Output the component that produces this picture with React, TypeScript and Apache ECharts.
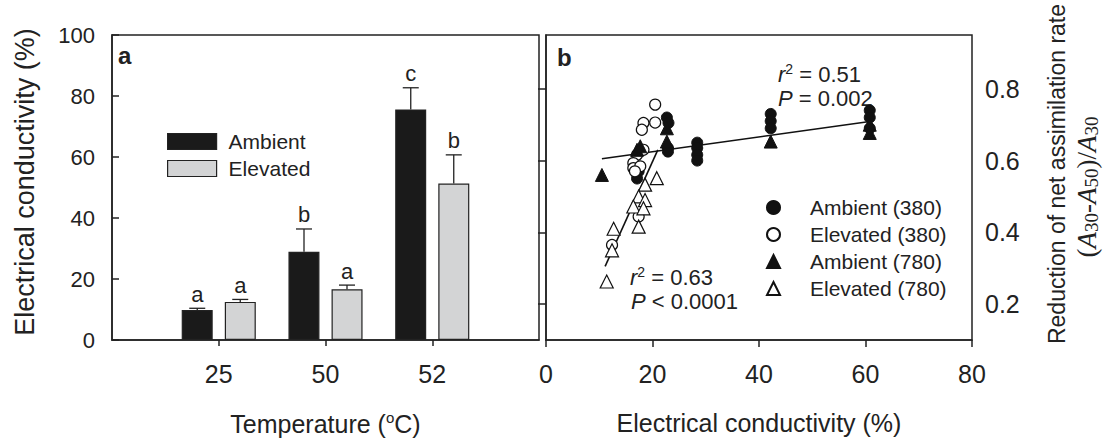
import React, { useEffect, useRef } from 'react';
import * as echarts from 'echarts';

// ---------- Panel a data ----------
const temperatures = ['25', '50', '52'];
const ambientMean = [9.8, 28.9, 75.6];
const ambientErrTop = [10.4, 36.4, 82.7];
const ambientLetters = ['a', 'b', 'c'];
const elevatedMean = [12.5, 16.6, 51.3];
const elevatedErrTop = [13.3, 18.0, 60.7];
const elevatedLetters = ['a', 'a', 'b'];
const yTicksA = [0, 20, 40, 60, 80, 100];

// ---------- Panel b data ----------
const ambient380: number[][] = [
  [17.4, 0.57], [17.1, 0.55],
  [22.7, 0.72], [23.0, 0.705], [22.9, 0.635], [22.9, 0.625],
  [28.4, 0.65], [28.4, 0.635], [28.4, 0.616], [28.4, 0.60],
  [42.2, 0.73], [42.2, 0.71], [42.2, 0.69],
  [60.8, 0.74], [60.8, 0.72], [60.8, 0.69],
];
const elevated380: number[][] = [
  [20.5, 0.756], [18.3, 0.705], [18.0, 0.686], [20.5, 0.706],
  [17.1, 0.616], [16.4, 0.593], [16.4, 0.579], [18.3, 0.63], [17.7, 0.584], [16.7, 0.57],
  [17.4, 0.444], [12.4, 0.365],
];
const ambient780: number[][] = [
  [10.5, 0.56], [17.1, 0.63], [17.7, 0.64],
  [22.7, 0.69], [22.7, 0.653], [42.2, 0.653],
  [60.8, 0.70], [60.8, 0.677],
];
const elevated780: number[][] = [
  [20.8, 0.551], [18.6, 0.533], [17.4, 0.50], [18.6, 0.49], [16.4, 0.472],
  [18.3, 0.467], [17.4, 0.416], [12.7, 0.41], [12.4, 0.35], [11.4, 0.263],
];
const fitAmbient: number[][] = [[10.5, 0.605], [60.8, 0.709]];
const fitElevated: number[][] = [[11.1, 0.305], [21.0, 0.63]];
const yTicksB = [0.2, 0.4, 0.6, 0.8];

const FONT = 'Liberation Sans';
const INK = '#222';

export default function App() {
  const ref = useRef<HTMLDivElement>(null);
  useEffect(() => {
    if (!ref.current) return;
    const chart = echarts.init(ref.current, undefined, { renderer: 'svg' });
    const cats = ['', ...temperatures, ''];
    const pad = (arr: number[]) => [null, ...arr, null];

    const errRender = (offset: number, tops: number[], means: number[], letters: string[]) =>
      (params: any, api: any) => {
        const idx = api.value(0);
        const i = params.dataIndex;
        const base = api.coord([idx, means[i]]);
        const top = api.coord([idx, tops[i]]);
        const x = base[0] + offset;
        return {
          type: 'group',
          children: [
            { type: 'line', shape: { x1: x, y1: base[1], x2: x, y2: top[1] }, style: { stroke: INK, lineWidth: 1.3 } },
            { type: 'line', shape: { x1: x - 8, y1: top[1], x2: x + 8, y2: top[1] }, style: { stroke: INK, lineWidth: 1.3 } },
            { type: 'text', x, y: top[1] - 3, style: { text: letters[i], fill: INK, fontSize: 22, fontFamily: FONT, align: 'center', verticalAlign: 'bottom' } },
          ],
        };
      };

    const axisLine = { lineStyle: { color: INK, width: 1.5 } };
    const tickStyle = { color: INK, width: 1.5 };
    const openStyle = { color: '#fff', borderColor: '#111', borderWidth: 1.2, opacity: 1 };
    const filledStyle = { color: '#111', borderColor: '#111', borderWidth: 1, opacity: 1 };

    const option: any = {
      animation: false,
      grid: [
        { left: 112, top: 35, width: 427, height: 305, show: true, borderColor: INK, borderWidth: 1.5, outerBoundsMode: 'none' },
        { left: 546, top: 35, width: 426, height: 305, show: true, borderColor: INK, borderWidth: 1.5, outerBoundsMode: 'none' },
      ],
      xAxis: [
        {
          type: 'category', gridIndex: 0, data: cats, boundaryGap: false,
          axisLine, axisTick: { show: true, inside: false, length: 6, interval: (i: number) => i >= 1 && i <= 3, lineStyle: tickStyle },
          axisLabel: { interval: 0, fontSize: 25, fontFamily: FONT, color: INK, margin: 21 },
          name: 'Temperature ({sup|o}C)', nameLocation: 'middle', nameGap: 70,
          nameTextStyle: {
            fontSize: 25, fontFamily: FONT, color: INK, lineHeight: 28,
            rich: { sup: { fontSize: 15, fontFamily: FONT, color: INK, lineHeight: 15, verticalAlign: 'top' } },
          },
        },
        {
          type: 'value', gridIndex: 1, min: 0, max: 80, interval: 20,
          axisLine, axisTick: { show: true, inside: false, length: 7, lineStyle: tickStyle },
          splitLine: { show: false },
          axisLabel: { fontSize: 25, fontFamily: FONT, color: INK, margin: 21 },
          name: 'Electrical conductivity (%)', nameLocation: 'middle', nameGap: 70,
          nameTextStyle: { fontSize: 25, fontFamily: FONT, color: INK },
        },
      ],
      yAxis: [
        {
          type: 'value', gridIndex: 0, min: 0, max: 100, interval: 20,
          axisLine: { show: true, ...axisLine }, axisTick: { show: true, inside: true, length: 7, lineStyle: tickStyle },
          splitLine: { show: false },
          axisLabel: { fontSize: 22, fontFamily: FONT, color: INK, margin: 17, customValues: yTicksA },
        },
        {
          type: 'value', gridIndex: 1, position: 'right', min: 0.1, max: 0.95,
          axisLine: { show: true, ...axisLine },
          axisTick: { show: true, inside: true, length: 8, lineStyle: tickStyle, customValues: yTicksB },
          splitLine: { show: false },
          axisLabel: { fontSize: 25, fontFamily: FONT, color: INK, margin: 13, customValues: yTicksB, formatter: (v: number) => v.toFixed(1) },
        },
      ],
      legend: [
        {
          data: ['Ambient', 'Elevated'], orient: 'vertical', left: 167, top: 128, padding: 0,
          itemWidth: 49, itemHeight: 16, itemGap: 0, icon: 'rect',
          itemStyle: { borderColor: INK, borderWidth: 1.2 },
          textStyle: { fontSize: 21, fontFamily: FONT, color: INK, lineHeight: 27, padding: [0, 0, 0, 7] },
        },
        {
          data: ['Ambient (380)', 'Elevated (380)', 'Ambient (780)', 'Elevated (780)'],
          orient: 'vertical', left: 766, top: 194, padding: 0, itemWidth: 13, itemHeight: 13, itemGap: 0,
          textStyle: { fontSize: 21, fontFamily: FONT, color: INK, lineHeight: 27, padding: [0, 0, 0, 25] },
        },
      ],
      series: [
        {
          name: 'Ambient', type: 'bar', xAxisIndex: 0, yAxisIndex: 0, data: pad(ambientMean),
          barWidth: 31, barGap: '39%', itemStyle: { color: '#1a1a1a', borderColor: INK, borderWidth: 1.2 },
        },
        {
          name: 'Elevated', type: 'bar', xAxisIndex: 0, yAxisIndex: 0, data: pad(elevatedMean),
          barWidth: 31, barGap: '39%', itemStyle: { color: '#d3d4d5', borderColor: INK, borderWidth: 1.2 },
        },
        {
          type: 'custom', xAxisIndex: 0, yAxisIndex: 0, silent: true,
          data: temperatures.map((_, i) => [i + 1, ambientErrTop[i]]),
          renderItem: errRender(-21.5, ambientErrTop, ambientMean, ambientLetters), z: 5,
        },
        {
          type: 'custom', xAxisIndex: 0, yAxisIndex: 0, silent: true,
          data: temperatures.map((_, i) => [i + 1, elevatedErrTop[i]]),
          renderItem: errRender(21.5, elevatedErrTop, elevatedMean, elevatedLetters), z: 5,
        },
        {
          type: 'line', xAxisIndex: 1, yAxisIndex: 1, data: fitAmbient, symbol: 'none', silent: true,
          lineStyle: { color: '#111', width: 1.6 }, z: 1,
        },
        {
          type: 'line', xAxisIndex: 1, yAxisIndex: 1, data: fitElevated, symbol: 'none', silent: true,
          lineStyle: { color: '#111', width: 1.6 }, z: 1,
        },
        { name: 'Ambient (380)', type: 'scatter', xAxisIndex: 1, yAxisIndex: 1, data: ambient380, symbol: 'circle', symbolSize: 11, itemStyle: filledStyle, z: 3 },
        { name: 'Elevated (380)', type: 'scatter', xAxisIndex: 1, yAxisIndex: 1, data: elevated380, symbol: 'circle', symbolSize: 11, itemStyle: openStyle, z: 3 },
        { name: 'Ambient (780)', type: 'scatter', xAxisIndex: 1, yAxisIndex: 1, data: ambient780, symbol: 'triangle', symbolSize: 13, itemStyle: filledStyle, z: 3 },
        { name: 'Elevated (780)', type: 'scatter', xAxisIndex: 1, yAxisIndex: 1, data: elevated780, symbol: 'triangle', symbolSize: 13, itemStyle: openStyle, z: 3 },
      ],
      graphic: [
        { type: 'text', x: 118, y: 55, style: { text: 'a', fontSize: 24, fontWeight: 'bold', fontFamily: FONT, fill: INK, verticalAlign: 'middle' } },
        { type: 'text', x: 557, y: 57, style: { text: 'b', fontSize: 24, fontWeight: 'bold', fontFamily: FONT, fill: INK, verticalAlign: 'middle' } },
        {
          type: 'text', x: 25, y: 182, rotation: Math.PI / 2,
          style: { text: 'Electrical conductivity (%)', fontSize: 27, fontFamily: FONT, fill: INK, align: 'center', verticalAlign: 'middle' },
        },
        {
          type: 'text', x: 778, y: 74,
          style: {
            text: '{i|r}{s|2}{n| = 0.51}', verticalAlign: 'middle', fill: INK,
            rich: {
              i: { fontSize: 22, fontFamily: FONT, fontStyle: 'italic', fill: INK, lineHeight: 24 },
              s: { fontSize: 14, fontFamily: FONT, fill: INK, lineHeight: 14, verticalAlign: 'top' },
              n: { fontSize: 22, fontFamily: FONT, fill: INK, lineHeight: 24 },
            },
          },
        },
        {
          type: 'text', x: 778, y: 98,
          style: {
            text: '{i|P}{n| = 0.002}', verticalAlign: 'middle', fill: INK,
            rich: {
              i: { fontSize: 22, fontFamily: FONT, fontStyle: 'italic', fill: INK },
              n: { fontSize: 22, fontFamily: FONT, fill: INK },
            },
          },
        },
        {
          type: 'text', x: 630, y: 277,
          style: {
            text: '{i|r}{s|2}{n| = 0.63}', verticalAlign: 'middle', fill: INK,
            rich: {
              i: { fontSize: 22, fontFamily: FONT, fontStyle: 'italic', fill: INK, lineHeight: 24 },
              s: { fontSize: 14, fontFamily: FONT, fill: INK, lineHeight: 14, verticalAlign: 'top' },
              n: { fontSize: 22, fontFamily: FONT, fill: INK, lineHeight: 24 },
            },
          },
        },
        {
          type: 'text', x: 631, y: 301,
          style: {
            text: '{i|P}{n| < 0.0001}', verticalAlign: 'middle', fill: INK,
            rich: {
              i: { fontSize: 22, fontFamily: FONT, fontStyle: 'italic', fill: INK },
              n: { fontSize: 22, fontFamily: FONT, fill: INK },
            },
          },
        },
        {
          type: 'text', x: 1057, y: 174, rotation: Math.PI / 2,
          style: { text: 'Reduction of net assimilation rate', fontSize: 23, fontFamily: FONT, fill: INK, align: 'center', verticalAlign: 'middle' },
        },
        {
          type: 'text', x: 1087, y: 187, rotation: Math.PI / 2,
          style: {
            text: '{n|(}{i|A}{s|30}{n|-}{i|A}{s|50}{n|)/}{i|A}{s|30}', align: 'center', verticalAlign: 'middle', fill: INK,
            rich: {
              n: { fontSize: 27, fontFamily: 'Liberation Serif', fill: INK, lineHeight: 28 },
              i: { fontSize: 27, fontFamily: 'Liberation Serif', fontStyle: 'italic', fill: INK, lineHeight: 28 },
              s: { fontSize: 19, fontFamily: 'Liberation Serif', fill: INK, lineHeight: 19, verticalAlign: 'bottom' },
            },
          },
        },
      ],
    };
    chart.setOption(option);
    return () => chart.dispose();
  }, []);
  return <div ref={ref} style={{ position: 'fixed', left: 0, top: 0, width: 1106, height: 446, background: '#fff' }} />;
}
